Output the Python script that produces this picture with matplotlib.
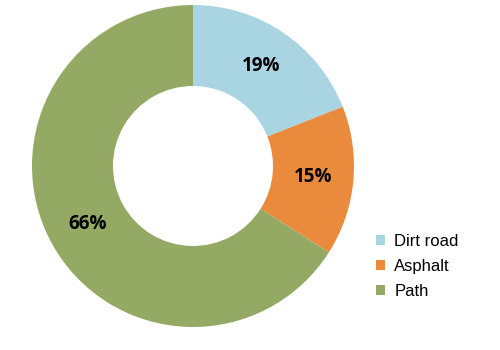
import matplotlib.pyplot as plt

# surface share data
labels = ['Dirt road', 'Asphalt', 'Path']
values = [19, 15, 66]
COLORS = ['#A9D5E3', '#EA8A3C', '#94A964']

fig = plt.figure(figsize=(5, 3.5), dpi=100)
ax = fig.add_axes([0, 0, 1, 1])

wedges, texts, autotexts = ax.pie(
    values, colors=COLORS, startangle=90, counterclock=False,
    center=(193, 184), radius=161,
    wedgeprops=dict(width=81, edgecolor='none'),
    autopct='%1.0f%%', pctdistance=0.75,
    textprops=dict(fontsize=13.5, fontweight='bold', family='Open Sans', color='black'),
)

ax.set_xlim(0, 500)
ax.set_ylim(0, 350)
ax.set_aspect('equal')
ax.axis('off')

ax.legend(wedges, labels, loc='upper left', bbox_to_anchor=(0.722, 0.375),
          frameon=False, handlelength=0.55, handleheight=0.55, handletextpad=0.55,
          labelspacing=0.6, prop=dict(family='Liberation Sans', size=12))

plt.savefig('out.png', dpi=100)
